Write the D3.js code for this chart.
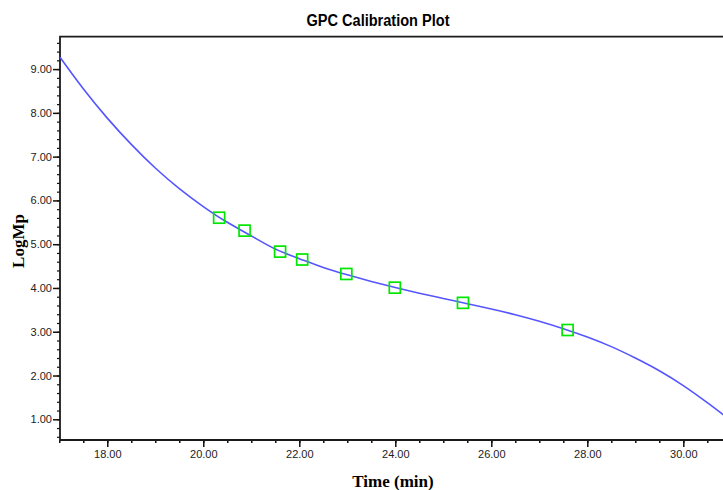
<!DOCTYPE html>
<html>
<head>
<meta charset="utf-8">
<script src="https://cdn.jsdelivr.net/npm/d3@7"></script>
<style>
  body { margin: 0; background: #fff; }
  svg { display: block; }
  .tick text { font-family: "Liberation Sans", Arial, sans-serif; font-size: 11px; fill: #222; }
</style>
</head>
<body>
<div id="chart"></div>
<script>
// calibration standards (retention time vs LogMp)
const stdTime = [20.33, 20.86, 21.60, 22.06, 22.98, 23.99, 25.41, 27.59];
const stdLogMp = [5.605, 5.31, 4.83, 4.65, 4.32, 4.007, 3.66, 3.04];

// fitted calibration curve, every half minute
const curveTime = [17.015, 17.5, 18.0, 18.5, 19.0, 19.5, 20.0, 20.5, 21.0, 21.5, 22.0, 22.5, 23.0, 23.5, 24.0,
  24.5, 25.0, 25.5, 26.0, 26.5, 27.0, 27.5, 28.0, 28.5, 29.0, 29.5, 30.0, 30.5, 30.85];
const curveLogMp = [9.27, 8.55, 7.88, 7.28, 6.74, 6.27, 5.86, 5.50, 5.19, 4.89, 4.67, 4.47, 4.30, 4.15, 4.01,
  3.88, 3.76, 3.64, 3.52, 3.39, 3.24, 3.07, 2.88, 2.66, 2.40, 2.11, 1.77, 1.38, 1.09];

const xMajor = [18, 20, 22, 24, 26, 28, 30];
const yMajor = [1, 2, 3, 4, 5, 6, 7, 8, 9];

const width = 723;
const height = 490;

const svg = d3.select('#chart')
  .append('svg')
  .attr('width', width)
  .attr('height', height);

const x = d3.scaleLinear().domain([17.015, 30.85]).range([60, 724.1]);
const y = d3.scaleLinear().domain([0.527, 9.74]).range([440, 36.7]);

const xMinor = d3.range(17, 31, 0.5).filter(d => x(d) >= 59 && x(d) <= 723);
const yMinor = d3.range(0.6, 9.75, 0.2).map(d => +d.toFixed(1));

// minor ticks
svg.append('g')
  .attr('transform', `translate(0,${y.range()[0]})`)
  .call(d3.axisBottom(x).tickValues(xMinor).tickSize(3).tickFormat(''))
  .call(g => g.select('.domain').remove())
  .call(g => g.selectAll('line').attr('stroke', '#111').attr('stroke-width', 1.5));

svg.append('g')
  .attr('transform', `translate(${x.range()[0]},0)`)
  .call(d3.axisLeft(y).tickValues(yMinor).tickSize(3).tickFormat(''))
  .call(g => g.select('.domain').remove())
  .call(g => g.selectAll('line').attr('stroke', '#111').attr('stroke-width', 1.2));

// major ticks + labels
svg.append('g')
  .attr('transform', `translate(0,${y.range()[0]})`)
  .call(d3.axisBottom(x).tickValues(xMajor).tickSize(7).tickPadding(3).tickFormat(d3.format('.2f')))
  .call(g => g.select('.domain').remove())
  .call(g => g.selectAll('line').attr('stroke', '#111').attr('stroke-width', 1.5));

svg.append('g')
  .attr('transform', `translate(${x.range()[0]},0)`)
  .call(d3.axisLeft(y).tickValues(yMajor).tickSize(7).tickPadding(1).tickFormat(d3.format('.2f')))
  .call(g => g.select('.domain').remove())
  .call(g => g.selectAll('line').attr('stroke', '#111').attr('stroke-width', 1.5));

// frame: left, bottom, top
svg.append('path')
  .attr('d', `M${x.range()[1]},${y.range()[1]}H${x.range()[0]}V${y.range()[0]}H${x.range()[1]}`)
  .attr('fill', 'none')
  .attr('stroke', '#1a1a1a')
  .attr('stroke-width', 1.8);

// curve
const line = d3.line()
  .x((d, i) => x(curveTime[i]))
  .y(d => y(d))
  .curve(d3.curveNatural);

svg.append('path')
  .datum(curveLogMp)
  .attr('d', line)
  .attr('fill', 'none')
  .attr('stroke', '#5555ff')
  .attr('stroke-width', 1.6);

// standards
svg.append('g')
  .selectAll('rect')
  .data(stdTime)
  .join('rect')
  .attr('x', (d) => x(d) - 5.5)
  .attr('y', (d, i) => y(stdLogMp[i]) - 5.5)
  .attr('width', 11)
  .attr('height', 11)
  .attr('fill', 'none')
  .attr('stroke', '#00e600')
  .attr('stroke-width', 1.7);

// titles
svg.append('text')
  .attr('x', 378)
  .attr('y', 25.5)
  .attr('text-anchor', 'middle')
  .attr('textLength', 143)
  .attr('lengthAdjust', 'spacingAndGlyphs')
  .style('font-family', '"Liberation Sans", Arial, sans-serif')
  .style('font-weight', 'bold')
  .style('font-size', '16px')
  .text('GPC Calibration Plot');

svg.append('text')
  .attr('x', 393)
  .attr('y', 487)
  .attr('text-anchor', 'middle')
  .style('font-family', '"Liberation Serif", "Times New Roman", serif')
  .style('font-weight', 'bold')
  .style('font-size', '17px')
  .text('Time (min)');

svg.append('text')
  .attr('transform', 'translate(24,241) rotate(-90)')
  .attr('text-anchor', 'middle')
  .style('font-family', '"Liberation Serif", "Times New Roman", serif')
  .style('font-weight', 'bold')
  .style('font-size', '17px')
  .text('LogMp');
</script>
</body>
</html>
